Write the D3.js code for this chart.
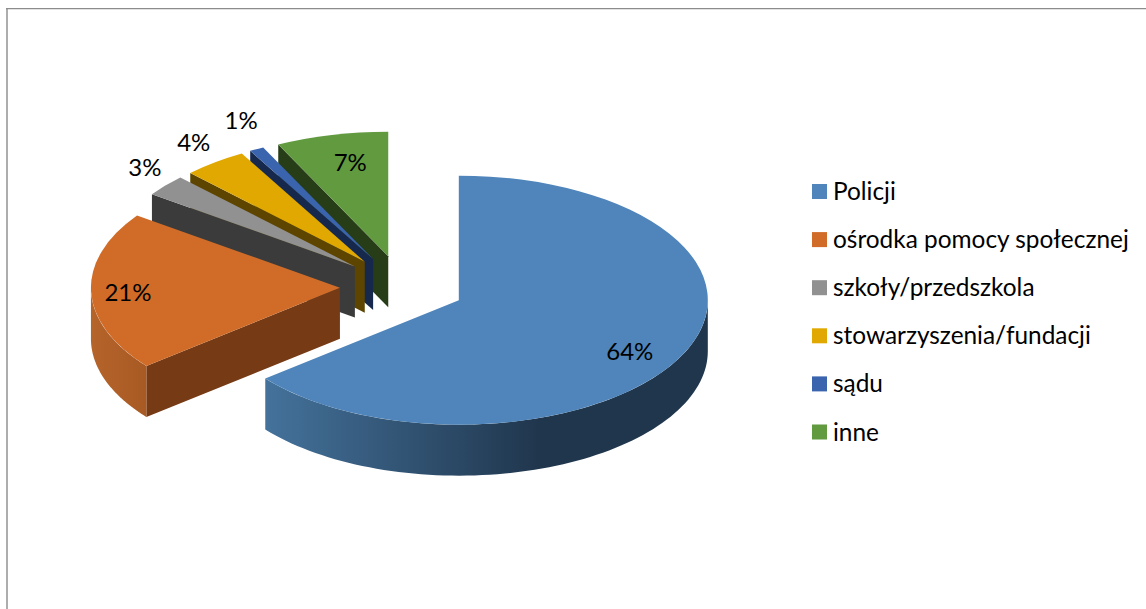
<!DOCTYPE html>
<html><head><meta charset="utf-8">
<script src="https://cdn.jsdelivr.net/npm/d3@7"></script>
<style>html,body{margin:0;padding:0;background:#fff}svg{display:block}text{font-family:Lato,"Noto Sans",sans-serif;fill:#000}</style>
</head><body><svg id="c" width="1146" height="609"></svg>
<script>
const categories = ["Policji","ośrodka pomocy społecznej","szkoły/przedszkola","stowarzyszenia/fundacji","sądu","inne"];
const values = [64.17, 20.67, 2.8, 4.14, 0.94, 7.28];
const topColors = ["#4f85ba","#d06c28","#919191","#e0a800","#3a64ae","#619a3f"];
const wallColors = ["#203649","#763a15","#3b3b3b","#5d4500","#16294d","#273d17"];
const rimStops = [["#44729b","#20364d"],["#b5642a","#a85a24"],["#3b3b3b","#3b3b3b"],["#5d4500","#5d4500"],["#16294d","#16294d"],["#273d17","#273d17"]];
// label offset from each slice's apex (layout only)
const labelOffsets = [[171,50],[-212,4],[-210,-100],[-171,-120],[-132,-140],[-38,-95]];

const W=1146,H=609, cx=402.4, cy=286.7, rx=249, ry=124.5, depth=51, explode=62.5;
const svg=d3.select("#c");
const defs=svg.append("defs");
svg.append("path").attr("d",d3.line()([[7,609],[7,8]])).attr("fill","none").attr("stroke","#adadad").attr("stroke-width",2);
svg.append("path").attr("d",d3.line()([[6,8.6],[1146,8.6]])).attr("fill","none").attr("stroke","#8c8c8c").attr("stroke-width",1.3);

const arcs=d3.pie().sort(null)(values);
const slices=arcs.map((a,i)=>{
  const mid=(a.startAngle+a.endAngle)/2;
  return {...a,i,mid,ax:cx+explode*Math.sin(mid),ay:cy-explode*Math.cos(mid)*ry/rx};
});
const pt=(s,ang,dz=0)=>[s.ax+rx*Math.sin(ang),s.ay-ry*Math.cos(ang)+dz];
const line=d3.line();
const arcGen=d3.arc().innerRadius(0).outerRadius(rx);

// back to front
const order=[5,4,3,2,1,0];
order.forEach(i=>{
  const s=slices[i], g=svg.append("g");
  // radial wall on the start edge when it faces the viewer
  if(Math.cos(s.startAngle-Math.PI/2)<-1e-6){
    const o=pt(s,s.startAngle);
    g.append("path").attr("fill",wallColors[i]).attr("d",line([[s.ax,s.ay],o,[o[0],o[1]+depth],[s.ax,s.ay+depth]])+"Z");
  }
  // outer rim, front half only
  const a0=Math.max(s.startAngle,Math.PI/2), a1=Math.min(s.endAngle,3*Math.PI/2);
  if(a1>a0){
    const n=80, angs=d3.range(n+1).map(k=>a0+(a1-a0)*k/n);
    const top=angs.map(a=>pt(s,a)), bot=angs.map(a=>pt(s,a,depth)).reverse();
    const xs=d3.extent(top,d=>d[0]);
    const id="rim"+i;
    const gr=defs.append("linearGradient").attr("id",id).attr("gradientUnits","userSpaceOnUse")
      .attr("x1",xs[0]).attr("x2",i===0?xs[0]+0.62*(xs[1]-xs[0]):xs[1]).attr("y1",0).attr("y2",0);
    gr.append("stop").attr("offset",0).attr("stop-color",rimStops[i][0]);
    gr.append("stop").attr("offset",1).attr("stop-color",rimStops[i][1]);
    g.append("path").attr("fill",`url(#${id})`).attr("d",line(top.concat(bot))+"Z");
  }
  // top face
  g.append("path").attr("fill",topColors[i])
    .attr("transform",`translate(${s.ax},${s.ay}) scale(1,${ry/rx})`)
    .attr("d",arcGen({startAngle:s.startAngle,endAngle:s.endAngle}));
});

// percentage labels
slices.forEach((s,i)=>{
  svg.append("text").attr("x",s.ax+labelOffsets[i][0]).attr("y",s.ay+labelOffsets[i][1])
    .attr("text-anchor","middle").attr("dominant-baseline","central").attr("font-size",24)
    .text(d3.format(".0f")(values[i])+"%");
});

// legend
const ly=d3.scalePoint().domain(categories).range([190.5,431]);
categories.forEach((c,i)=>{
  svg.append("rect").attr("x",812).attr("y",ly(c)-6.5).attr("width",15).attr("height",15).attr("fill",topColors[i]);
  svg.append("text").attr("x",833).attr("y",ly(c)).attr("dominant-baseline","central").attr("font-size",24.4).text(c);
});
</script></body></html>
